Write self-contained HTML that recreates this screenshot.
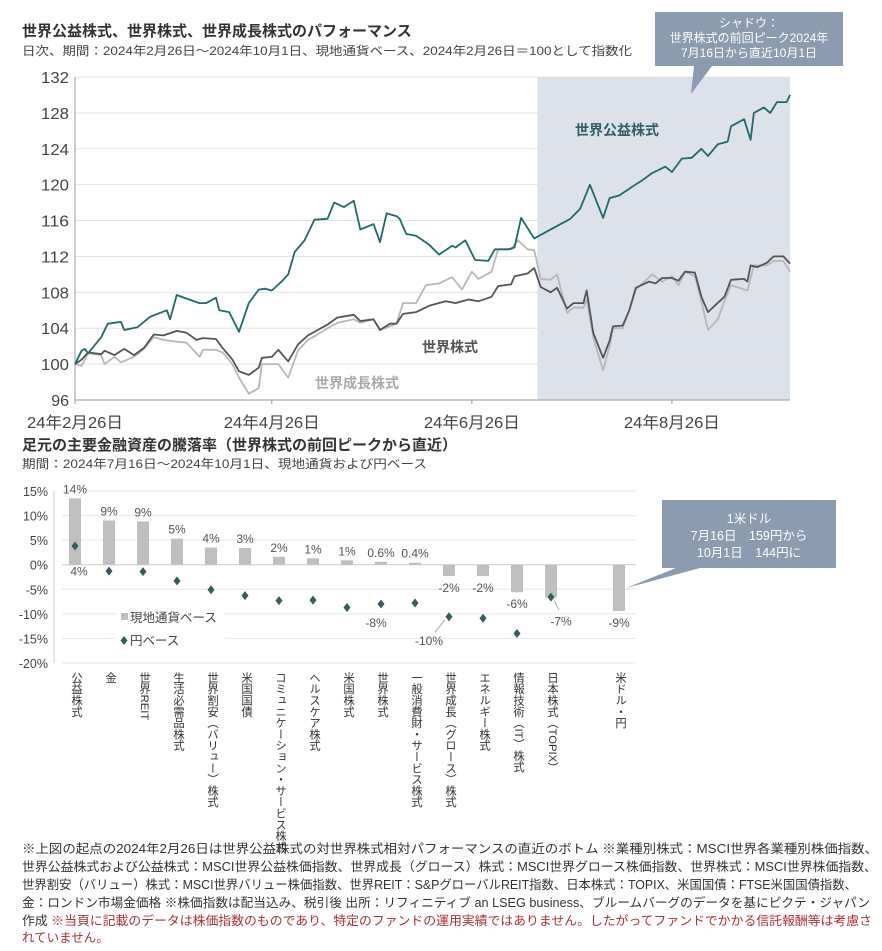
<!DOCTYPE html>
<html><head><meta charset="utf-8">
<style>
body{margin:0;background:#fff;}
svg{display:block;font-family:"Liberation Sans Narrow","Liberation Sans","Noto Sans CJK JP",sans-serif;}
.jp{font-family:"Liberation Sans","Noto Sans CJK JP",sans-serif;}
</style></head>
<body>
<svg id="c" width="882" height="951" viewBox="0 0 882 951" xmlns="http://www.w3.org/2000/svg">
<text class="jp" x="22" y="36" font-size="15" font-weight="bold" fill="#333">世界公益株式、世界株式、世界成長株式のパフォーマンス</text>
<text class="jp" x="22" y="55" font-size="12" fill="#444" textLength="610" lengthAdjust="spacingAndGlyphs">日次、期間：2024年2月26日～2024年10月1日、現地通貨ベース、2024年2月26日＝100として指数化</text>
<g id="topChart"></g>
<g id="botChart"></g>
<text class="jp" x="22" y="450" font-size="15" font-weight="bold" fill="#333">足元の主要金融資産の騰落率（世界株式の前回ピークから直近）</text>
<text class="jp" x="22" y="468" font-size="12" fill="#444" textLength="405" lengthAdjust="spacingAndGlyphs">期間：2024年7月16日～2024年10月1日、現地通貨および円ベース</text>
<g class="jp" font-size="12.5" fill="#333">
<text x="22" y="853" textLength="856" lengthAdjust="spacingAndGlyphs">※上図の起点の2024年2月26日は世界公益株式の対世界株式相対パフォーマンスの直近のボトム ※業種別株式：MSCI世界各業種別株価指数、</text>
<text x="22" y="871" textLength="855" lengthAdjust="spacingAndGlyphs">世界公益株式および公益株式：MSCI世界公益株価指数、世界成長（グロース）株式：MSCI世界グロース株価指数、世界株式：MSCI世界株価指数、</text>
<text x="22" y="889" textLength="835" lengthAdjust="spacingAndGlyphs">世界割安（バリュー）株式：MSCI世界バリュー株価指数、世界REIT：S&amp;PグローバルREIT指数、日本株式：TOPIX、米国国債：FTSE米国国債指数、</text>
<text x="22" y="907" textLength="848" lengthAdjust="spacingAndGlyphs">金：ロンドン市場金価格 ※株価指数は配当込み、税引後 出所：リフィニティブ an LSEG business、ブルームバーグのデータを基にピクテ・ジャパン</text>
<text x="22" y="925" textLength="850" lengthAdjust="spacingAndGlyphs"><tspan>作成 </tspan><tspan fill="#b03030">※当頁に記載のデータは株価指数のものであり、特定のファンドの運用実績ではありません。したがってファンドでかかる信託報酬等は考慮さ</tspan></text>
<text x="22" y="942" fill="#b03030">れていません。</text>
</g>
</svg>
<script>
// ---------- top chart data ----------
const yTicks = [96,100,104,108,112,116,120,124,128,132];
const xTickDays = [0,60,121,182];
const xTickLabels = ["24年2月26日","24年4月26日","24年6月26日","24年8月26日"];
const shadeStartDay = 141, shadeEndDay = 218;
const utilDays = [0,2,3,4,8,10,14,15,19,23,28,29,31,34,38,40,43,44,47,50,53,56,58,60,63,65,67,70,73,77,79,82,85,87,91,93,95,98,99,101,104,108,111,115,116,119,122,126,128,132,134,136,140,141,144,146,149,151,154,157,161,163,166,170,173,176,180,182,185,188,191,193,196,199,200,204,206,207,210,212,214,217,218];
const utilVals = [100,101.5,101.7,101.2,103,104.5,104.7,103.8,104.1,105.3,106,105,107.7,107.3,106.8,106.8,107.4,106,105.8,103.6,106.8,108.3,108.4,108.2,109.2,110,112.5,113.8,116.1,116.2,118,117.5,118.2,115,115.6,113.6,116.8,116.5,116.2,114.5,114.3,113.3,112.2,113.2,113,113.8,111.6,111.5,112.8,112.8,113,116.3,114,114.2,114.8,115.2,115.8,116.2,117.3,120,116.3,118.5,118.8,119.8,120.5,121.3,122,121.4,122.9,123,124,123.2,124.5,124.8,126.5,127.3,125,128,128.6,128,129.2,129.2,130];
const worldDays = [0,2,4,8,9,12,15,18,21,24,27,31,34,37,39,43,45,48,50,53,56,57,60,62,65,68,71,74,77,80,85,87,91,93,96,98,100,104,108,113,116,120,123,127,129,133,134,138,140,142,145,147,150,152,155,156,158,161,163,164,167,169,171,175,177,179,182,184,186,189,191,193,195,198,200,204,205,206,208,211,213,216,218];
const worldVals = [100,100.5,101.3,101.1,101.5,101,101.7,101,101.8,103.3,103.2,103.7,103.5,102.7,102.9,102.8,101.8,100.5,99.2,98.8,99.6,100.7,100.8,101.6,100.3,102.2,103.2,103.8,104.4,105.2,105.5,104.8,105,103.8,104.5,104.5,105.6,105.8,106.5,107,106.8,107.2,107,107.5,108.7,108.9,109.8,110.1,110.7,108.6,108,108.5,106.2,106.8,106.8,108.2,103.5,100.7,102.6,104.2,104.3,106,108.5,109.2,109,109.6,109.6,109.3,110.3,110.2,107.5,105.8,106.5,107.5,109.4,109.5,109.2,111,110.8,111.3,112,112,111.2];
const growthDays = [0,2,4,8,9,12,14,18,21,24,27,31,34,38,39,43,45,48,50,53,56,57,60,62,65,68,71,74,77,80,85,87,91,93,96,98,100,104,107,111,115,118,121,123,127,129,133,135,138,140,142,145,147,150,152,155,156,158,161,163,164,167,169,171,176,179,182,184,186,189,191,193,196,198,200,205,207,211,213,216,218];
const growthVals = [100,99.8,101.2,101,100,100.8,100.2,100.8,101.7,103,102.7,102.5,102.4,100.8,101.6,101.6,101.3,100,98.5,96.7,97.3,100,100,100,98.5,101.5,102.7,103.3,104,104.6,105,104.6,105,103.8,104.2,104.5,106.8,106.8,108.8,109,109.7,108.3,110.3,109.5,110.3,112.8,112.8,113.8,112.8,112.7,109.5,109.4,110,105.7,106.3,106.3,107.2,103,99.3,102,104,104,106,108.3,110,109.2,109.8,108.8,110.3,109.8,107,103.8,105,107,108.8,108.2,111,111,111.5,111.5,110.3];

// ---------- bottom chart data ----------
const cats = ["公益株式","金","世界REIT","生活必需品株式","世界割安（バリュー）株式","米国国債","コミュニケーション・サービス株式","ヘルスケア株式","米国株式","世界株式","一般消費財・サービス株式","世界成長（グロース）株式","エネルギー株式","情報技術（IT）株式","日本株式（TOPIX）","米ドル・円"];
const catSlots = [0,1,2,3,4,5,6,7,8,9,10,11,12,13,14,16];
const localVals = [13.5,9,8.8,5.3,3.5,3.4,1.6,1.3,0.9,0.6,0.4,-2.3,-2.3,-5.6,-6.7,-9.4];
const localLabels = ["14%","9%","9%","5%","4%","3%","2%","1%","1%","0.6%","0.4%","-2%","-2%","-6%","-7%","-9%"];
const yenVals = [3.8,-1.3,-1.4,-3.3,-5.1,-6.3,-7.3,-7.2,-8.7,-8.0,-7.8,-10.6,-10.9,-14,-6.6,null];
const pctTicks = [15,10,5,0,-5,-10,-15,-20];

const NS="http://www.w3.org/2000/svg";
function mk(parent,tag,attrs,text){const el=document.createElementNS(NS,tag);for(const k in attrs)el.setAttribute(k,attrs[k]);if(text!==undefined)el.textContent=text;parent.appendChild(el);return el;}

const T={x0:75,x1:790,y0:400,y1:77,vmin:96,vmax:132,dmax:218};
const tx=d=>T.x0+(T.x1-T.x0)*d/T.dmax;
const ty=v=>T.y0-(T.y0-T.y1)*(v-T.vmin)/(T.vmax-T.vmin);
const topG=document.getElementById('topChart');
let el0;
el0=mk(topG,'rect',{x:tx(shadeStartDay),y:ty(132),width:tx(shadeEndDay)-tx(shadeStartDay),height:ty(96)-ty(132),fill:'#dde1ea'});


yTicks.forEach(v=>{
 const g=mk(topG,'line',{x1:T.x0,x2:T.x1,y1:ty(v),y2:ty(v),stroke:v===96?'#999':'#e3e3e3','stroke-width':1});
 
 
 const t=mk(topG,'text',{x:T.x0-6,y:ty(v)+6,'text-anchor':'end','font-size':16,fill:'#444',textLength:28,lengthAdjust:'spacingAndGlyphs'},String(v));
 if(String(v).length<3)t.removeAttribute('textLength');
 
 
});
mk(topG,'line',{x1:T.x0,x2:T.x0,y1:T.y1,y2:T.y0,stroke:'#999'});
xTickDays.forEach((d,i)=>{
 mk(topG,'line',{x1:tx(d),x2:tx(d),y1:T.y0,y2:T.y0+4,stroke:'#999'});
 const t=mk(topG,'text',{x:tx(d),y:428,'text-anchor':'middle','font-size':16,fill:'#444',textLength:96,lengthAdjust:'spacingAndGlyphs'},xTickLabels[i]);
 
 
});
function drawLine(days,vals,color,w,name){
 const p=mk(topG,'polyline',{points:days.map((d,i)=>tx(d).toFixed(1)+','+ty(vals[i]).toFixed(1)).join(' '),fill:'none',stroke:color,'stroke-width':w,'stroke-linejoin':'round'});
 
 
}
drawLine(growthDays,growthVals,'#b8b8b8',1.8,'growth-line');
drawLine(worldDays,worldVals,'#555555',1.8,'world-line');
drawLine(utilDays,utilVals,'#1f6b6b',1.8,'utilities-line');
[["世界公益株式",617,135,'#2f5f66','utilities-label'],["世界株式",450,352,'#555','world-label'],["世界成長株式",357,388,'#aaa','growth-label']].forEach(a=>{
 const t=mk(topG,'text',{x:a[1],y:a[2],'text-anchor':'middle','font-size':14,'font-weight':'bold',fill:a[3],class:'jp'},a[0]);
 
 
});
el0=mk(topG,'path',{d:'M655,12 H843 V66 H712 L691,94 L694,66 H655 Z',fill:'#8b9bb0'});


["シャドウ：","世界株式の前回ピーク2024年","7月16日から直近10月1日"].forEach((s,i)=>{
 const t=mk(topG,'text',{x:749,y:27+i*15,'text-anchor':'middle','font-size':12,fill:'#fff',class:'jp'},s);
 
 
});

// bottom chart
const B={x0:62,x1:636,y0:663,y1:491,slot0:75,slotW:34};
const bx=s=>B.slot0+B.slotW*s;
const by=v=>B.y1+(B.y0-B.y1)*(15-v)/35;
const botG=document.getElementById('botChart');
pctTicks.forEach(v=>{
 const g=mk(botG,'line',{x1:B.x0,x2:B.x1,y1:by(v),y2:by(v),stroke:v===0?'#ccc':'#e6e6e6'});
 
 
 const t=mk(botG,'text',{x:B.x0-14,y:by(v)+5,'text-anchor':'end','font-size':12.5,fill:'#444'},v+'%');
 
 
});
mk(botG,'line',{x1:B.x0-8,x2:B.x0-8,y1:B.y1,y2:B.y0,stroke:'#ccc'});
mk(botG,'rect',{x:115,y:605,width:110,height:45,fill:'#fff'});
cats.forEach((c,i)=>{
 const s=catSlots[i],v=localVals[i];
 const r=mk(botG,'rect',{x:bx(s)-6,y:Math.min(by(v),by(0)),width:12,height:Math.abs(by(v)-by(0)),fill:'#bfbfbf'});
 
 
 let ly=v>=0?by(v)-5:by(v)+16, lx=bx(s);
 if(i===14){ly=by(v)+28;lx=bx(s)+10;}
 const t=mk(botG,'text',{x:lx,y:ly,'text-anchor':'middle','font-size':12,fill:'#555'},localLabels[i]);
 
 
 if(yenVals[i]!==null){
  const yv=yenVals[i],cx=bx(s),cy=by(yv);
  const d=mk(botG,'path',{d:`M${cx},${cy-4.5} L${cx+3.5},${cy} L${cx},${cy+4.5} L${cx-3.5},${cy} Z`,fill:'#2e5e5e'});
  
  
 }
 const lab=mk(botG,'text',{x:bx(s)+1,y:672,'font-size':11.3,fill:'#333',class:'jp',style:'writing-mode:vertical-rl;text-orientation:mixed'},c);
 
 
});
[["4%",0,4,-1.2],["-8%",9,-5,-11.7],["-10%",11,-20,-15.3]].forEach(a=>{
 const t=mk(botG,'text',{x:bx(catSlots[a[1]])+a[2],y:by(a[3])+5,'text-anchor':'middle','font-size':12,fill:'#555'},a[0]);
 
 
});
mk(botG,'line',{x1:bx(11)-14,y1:by(-13.7),x2:bx(11)-4,y2:by(-11.2),stroke:'#aaa'});
mk(botG,'line',{x1:bx(14)+3,y1:by(-7.3),x2:bx(14)+8,y2:by(-9.2),stroke:'#aaa'});
el0=mk(botG,'rect',{x:121,y:613,width:7,height:7,fill:'#bfbfbf'});


el0=mk(botG,'text',{x:130,y:622,'font-size':12.5,fill:'#444',class:'jp'},'現地通貨ベース');


el0=mk(botG,'path',{d:'M124,636 L127.5,640.5 L124,645 L120.5,640.5 Z',fill:'#2e5e5e'});


el0=mk(botG,'text',{x:130,y:645,'font-size':12.5,fill:'#444',class:'jp'},'円ベース');


el0=mk(botG,'path',{d:'M662,500 H836 V568 H700 L626,588 L676,568 H662 Z',fill:'#8b9bb0'});


["1米ドル","7月16日　159円から","10月1日　144円に"].forEach((s,i)=>{
 const t=mk(botG,'text',{x:749,y:523+i*17,'text-anchor':'middle','font-size':12.5,fill:'#fff',class:'jp'},s);
 
 
});
</script>
</body></html>
